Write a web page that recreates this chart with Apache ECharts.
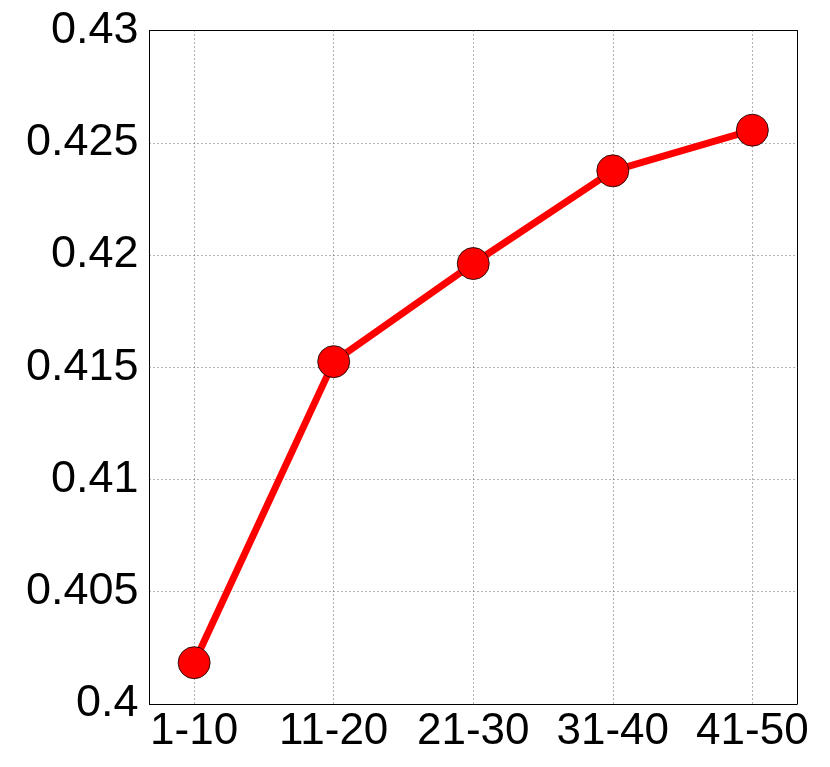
<!DOCTYPE html>
<html>
<head>
<meta charset="utf-8">
<script src="https://cdn.jsdelivr.net/npm/echarts@6/dist/echarts.min.js"></script>
<style>
  html, body { margin: 0; padding: 0; background: #fff; }
  #chart { width: 830px; height: 767px; }
</style>
</head>
<body>
<div id="chart"></div>
<script>
// 数据
const categories = ['1-10', '11-20', '21-30', '31-40', '41-50'];
const values = [0.40184, 0.41525, 0.41962, 0.42375, 0.42556];
const yTicks = { min: 0.4, max: 0.43, step: 0.005 };

const font = 'Liberation Sans, Arial, Helvetica, sans-serif';
const chart = echarts.init(document.getElementById('chart'));

// x 用数值轴，1..5 对应各个类别
const points = values.map((v, i) => [i + 1, v]);

chart.setOption({
  animation: false,
  grid: { left: 149.5, right: 33, top: 30.5, bottom: 63, containLabel: false },
  xAxis: [
    {
      type: 'value',
      min: 0.68,
      max: 5.32,
      axisLine: { show: true, onZero: false, lineStyle: { color: '#000', width: 1 } },
      axisTick: { show: false },
      axisLabel: {
        showMinLabel: false,
        showMaxLabel: false,
        color: '#000',
        fontSize: 44,
        fontFamily: font,
        margin: 6,
        formatter: v => (Number.isInteger(v) ? categories[v - 1] : '')
      },
      splitLine: { show: true, lineStyle: { color: '#666', type: [1, 3], width: 1 } }
    },
    {
      // 上边框
      type: 'value', position: 'top', min: 0.68, max: 5.32,
      axisLine: { show: true, lineStyle: { color: '#000', width: 1 } },
      axisTick: { show: false }, axisLabel: { show: false }, splitLine: { show: false }
    }
  ],
  yAxis: [
    {
      type: 'value',
      min: yTicks.min,
      max: yTicks.max,
      interval: yTicks.step,
      axisLine: { show: true, lineStyle: { color: '#000', width: 1 } },
      axisTick: { show: false },
      axisLabel: { color: '#000', fontSize: 45, fontFamily: font, margin: 11 },
      splitLine: { show: true, lineStyle: { color: '#666', type: [1, 3], width: 1 } }
    },
    {
      // 右边框
      type: 'value', position: 'right', min: yTicks.min, max: yTicks.max,
      axisLine: { show: true, lineStyle: { color: '#000', width: 1 } },
      axisTick: { show: false }, axisLabel: { show: false }, splitLine: { show: false }
    }
  ],
  series: [
    {
      type: 'line',
      data: points,
      symbol: 'circle',
      symbolSize: 32,
      lineStyle: { color: '#ff0000', width: 7 },
      itemStyle: { color: '#ff0000', borderColor: '#000', borderWidth: 0.8 }
    }
  ]
});

window.addEventListener('resize', () => {
  if (chart) chart.resize();
});
</script>
</body>
</html>
